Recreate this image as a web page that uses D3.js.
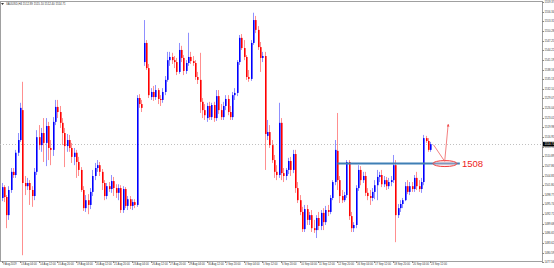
<!DOCTYPE html>
<html>
<head>
<meta charset="utf-8">
<script src="https://cdn.jsdelivr.net/npm/d3@7"></script>
<style>
html, body { margin: 0; padding: 0; background: #fff; overflow: hidden; }
svg { display: block; }
</style>
</head>
<body>
<svg id="chart"></svg>
<script>

// XAUUSD H4, 9 Aug - 23 Sep 2019
var opens = [
1497.8,1501.2,1498.1,1492.4,1500.3,1506.0,1505.0,1512.0,1516.0,1525.4,
1502.5,1501.5,1502.5,1500.3,1498.4,1506.0,1516.9,1514.4,1518.2,1515.1,
1520.4,1513.5,1512.9,1521.7,1526.4,1524.8,1521.4,1518.2,1514.1,1516.0,
1513.5,1510.7,1512.0,1509.1,1506.6,1500.3,1494.6,1497.1,1495.6,1499.7,
1504.7,1507.2,1508.1,1506.0,1502.5,1498.4,1501.5,1500.6,1503.1,1500.9,
1499.4,1500.9,1494.0,1500.6,1495.3,1497.4,1495.3,1496.5,1495.6,1529.2,
1527.3,1540.5,1546.5,1538.6,1529.5,1531.1,1529.5,1531.7,1528.9,1528.6,
1531.1,1534.9,1541.1,1542.1,1541.1,1540.5,1537.4,1544.3,1541.8,1537.7,
1540.2,1542.1,1540.8,1540.2,1535.8,1534.9,1528.0,1525.4,1522.9,1526.7,
1523.2,1527.0,1522.9,1529.8,1525.4,1523.2,1526.7,1528.9,1524.8,1523.2,
1530.1,1530.8,1540.5,1548.1,1544.9,1542.1,1535.8,1535.2,1546.5,1553.7,
1550.6,1545.2,1541.8,1542.4,1517.3,1518.5,1514.4,1509.7,1506.0,1505.0,
1521.4,1505.6,1504.7,1506.6,1509.4,1506.6,1511.6,1500.9,1497.1,1493.4,
1488.0,1494.3,1490.9,1492.4,1488.3,1487.7,1491.5,1489.0,1493.1,1490.2,
1494.0,1493.4,1497.8,1502.8,1512.6,1503.4,1498.4,1497.1,1498.7,1509.1,
1492.1,1488.3,1489.3,1500.9,1506.6,1503.4,1504.7,1499.4,1498.4,1497.8,
1499.7,1501.8,1504.4,1505.0,1502.1,1503.4,1501.5,1502.8,1503.4,1508.1,
1492.4,1494.6,1495.9,1497.1,1501.5,1499.7,1501.5,1500.6,1504.1,1501.5,
1500.6,1502.8,1516.6,1515.7,1512.9
];
var highs = [
1502.5,1501.8,1498.7,1501.5,1507.2,1507.2,1512.9,1518.2,1527.7,1534.3,
1504.7,1504.1,1503.4,1501.5,1507.2,1519.1,1520.7,1519.8,1522.9,1522.9,
1521.7,1516.0,1523.2,1528.6,1528.6,1526.7,1522.9,1519.8,1517.9,1517.6,
1515.1,1513.5,1512.9,1510.7,1507.5,1501.5,1498.7,1499.0,1500.9,1506.6,
1508.8,1509.7,1509.1,1506.9,1503.4,1502.5,1502.8,1505.0,1504.4,1502.1,
1502.1,1501.8,1501.5,1501.2,1498.4,1498.4,1497.4,1497.4,1530.1,1530.4,
1528.6,1553.7,1547.4,1539.9,1532.3,1533.0,1533.3,1532.3,1530.1,1532.3,
1536.1,1543.7,1543.7,1543.4,1542.4,1541.8,1546.5,1545.6,1542.7,1541.1,
1549.7,1543.7,1542.4,1541.1,1537.4,1543.4,1529.2,1527.3,1527.7,1528.0,
1527.7,1528.0,1531.7,1531.7,1527.3,1528.0,1530.1,1530.1,1526.7,1531.1,
1532.3,1541.1,1549.0,1549.3,1547.4,1542.7,1538.0,1547.4,1556.0,1555.0,
1551.8,1546.8,1543.7,1543.7,1522.3,1520.7,1516.0,1511.3,1508.1,1527.7,
1522.9,1507.2,1507.2,1510.4,1510.7,1512.9,1512.9,1502.8,1498.7,1495.0,
1495.6,1495.6,1493.4,1494.0,1490.9,1492.4,1493.4,1494.0,1494.6,1495.3,
1495.6,1498.7,1503.4,1516.0,1524.5,1504.7,1500.3,1499.7,1509.7,1509.7,
1493.4,1490.2,1501.8,1508.1,1507.8,1506.0,1506.0,1500.9,1500.3,1500.9,
1503.4,1506.6,1506.0,1506.6,1504.7,1504.4,1504.1,1504.7,1511.3,1509.7,
1495.9,1497.1,1497.8,1502.8,1503.4,1502.8,1502.8,1505.0,1506.0,1503.4,
1504.1,1517.6,1517.3,1516.6,1515.4
];
var lows = [
1496.8,1496.5,1488.3,1490.9,1499.4,1504.1,1504.1,1511.0,1515.4,1479.8,
1498.7,1500.3,1495.6,1495.0,1497.1,1505.0,1512.9,1512.3,1509.1,1507.8,
1509.7,1508.1,1511.0,1520.7,1522.9,1519.8,1514.4,1507.5,1512.3,1512.3,
1508.8,1508.1,1504.1,1504.7,1499.7,1493.7,1493.4,1492.7,1494.3,1498.4,
1503.4,1506.0,1504.7,1500.3,1497.1,1497.4,1499.7,1499.4,1498.4,1497.8,
1497.1,1493.1,1493.1,1494.6,1494.0,1494.3,1494.0,1494.6,1495.0,1526.1,
1524.8,1539.3,1538.0,1529.2,1528.6,1528.3,1528.6,1527.3,1526.7,1527.7,
1530.1,1534.3,1539.3,1539.9,1538.6,1536.4,1536.8,1540.5,1536.4,1536.8,
1539.3,1539.9,1539.3,1534.9,1533.6,1524.5,1522.9,1522.3,1521.7,1522.3,
1522.3,1521.7,1522.0,1524.2,1522.3,1522.3,1525.4,1523.8,1522.3,1522.3,
1528.6,1529.8,1539.6,1544.3,1541.1,1534.9,1534.3,1534.6,1545.9,1549.6,
1544.3,1537.4,1540.5,1506.6,1516.0,1513.5,1508.8,1504.1,1503.4,1504.1,
1503.4,1502.8,1503.4,1505.3,1504.7,1505.6,1499.4,1496.2,1492.4,1487.1,
1487.1,1489.3,1489.3,1487.1,1486.8,1485.2,1487.7,1487.7,1487.7,1489.3,
1492.1,1492.7,1497.1,1501.8,1500.3,1496.2,1496.2,1496.5,1497.8,1490.9,
1487.1,1487.1,1488.3,1500.0,1501.8,1502.5,1498.4,1497.1,1495.6,1496.8,
1497.4,1497.1,1502.8,1501.2,1501.2,1500.3,1500.6,1501.5,1502.5,1483.9,
1491.5,1493.4,1494.6,1496.8,1499.0,1498.7,1499.7,1499.7,1500.3,1499.7,
1499.4,1501.8,1515.1,1512.3,1512.3
];
var closes = [
1501.2,1498.1,1492.4,1500.3,1506.0,1505.0,1512.0,1516.0,1526.1,1502.5,
1501.5,1502.5,1500.3,1498.4,1506.0,1516.9,1514.4,1518.2,1515.1,1520.4,
1513.5,1512.9,1521.7,1526.4,1524.8,1521.4,1518.2,1514.1,1516.0,1513.5,
1510.7,1512.0,1509.1,1506.6,1500.3,1494.6,1497.1,1495.6,1499.7,1504.7,
1507.2,1508.1,1506.0,1502.5,1498.4,1501.5,1500.6,1503.1,1500.9,1499.4,
1500.9,1494.0,1500.6,1495.3,1497.4,1495.3,1496.5,1495.6,1529.2,1527.3,
1526.1,1546.5,1538.6,1530.1,1531.1,1529.5,1531.7,1528.9,1528.6,1531.1,
1534.9,1541.1,1542.1,1541.1,1540.5,1537.4,1544.3,1541.8,1537.7,1540.2,
1542.1,1540.8,1540.2,1535.8,1534.9,1528.0,1525.4,1523.8,1526.7,1523.2,
1527.0,1522.9,1529.8,1525.4,1523.2,1526.7,1528.9,1524.8,1523.2,1530.1,
1530.8,1540.5,1548.1,1544.9,1542.1,1535.8,1535.2,1546.5,1553.7,1550.6,
1545.2,1541.8,1542.4,1517.9,1518.5,1514.4,1509.7,1506.0,1505.0,1521.4,
1505.6,1504.7,1506.6,1509.4,1506.6,1511.6,1500.9,1497.1,1493.4,1488.0,
1494.3,1490.9,1492.4,1488.3,1487.7,1491.5,1489.0,1493.1,1490.2,1494.0,
1493.4,1497.8,1502.8,1512.9,1503.4,1498.4,1497.1,1498.7,1509.1,1492.1,
1488.3,1489.3,1500.9,1506.6,1503.4,1504.7,1499.4,1498.4,1497.8,1499.7,
1501.8,1504.4,1505.0,1502.1,1503.4,1501.5,1502.8,1503.4,1508.1,1492.4,
1494.6,1495.9,1497.1,1501.5,1499.7,1501.5,1500.6,1504.1,1501.5,1500.6,
1502.8,1516.6,1515.7,1512.9,1514.7
];

// one date label every 8 bars
var dateLabels = [
"9 Aug 2019","13 Aug 04:00","14 Aug 12:00","15 Aug 20:00","19 Aug 04:00",
"20 Aug 12:00","21 Aug 20:00","23 Aug 04:00","26 Aug 12:00","27 Aug 20:00",
"29 Aug 04:00","30 Aug 12:00","2 Sep 20:00","4 Sep 04:00","5 Sep 12:00",
"6 Sep 20:00","10 Sep 04:00","11 Sep 12:00","12 Sep 20:00","16 Sep 04:00",
"17 Sep 12:00","18 Sep 20:00","20 Sep 04:00","23 Sep 12:00"
];
var priceTicks = [
1559.37,1556.34,1553.31,1550.28,1547.25,1544.22,1541.19,1538.16,1535.13,
1532.10,1529.07,1526.04,1523.01,1519.98,1516.95,1513.92,1510.89,1507.86,
1504.83,1501.80,1498.77,1495.74,1492.71,1489.68,1486.65,1483.62,1480.59,1477.56
];

var symbolTitle = "XAUUSD,H4  1512.89 1515.10 1512.40 1514.71";
var bidPrice = 1514.71;

// drawn annotation: support level, ellipse, arrow and label
var levelPrice = 1508.6;
var levelFrom = 144, levelTo = 196.5;
var ellipseBar = 190.1;
var arrowPts = [[185.2, 1514.5], [190.0, 1509.3], [191.5, 1521.0]];
var levelText = "1508";
var textBar = 197.4;

var BULL = '#0000ff', BEAR = '#ff0000';
var BULL_WICK = '#8f8fff', BEAR_WICK = '#ff8f8f';
var W = 554, H = 268;
var plotRight = 542, plotTop = 2, plotBottom = 261;

var svg = d3.select('#chart').attr('width', W).attr('height', H);

var x = d3.scaleLinear().domain([0, 231.76]).range([2, plotRight]);
var y = d3.scaleLinear().domain([1478.3, 1560.0]).range([260, 0]);

var bars = opens.map(function(o, i) {
  return {i: i, o: o, h: highs[i], l: lows[i], c: closes[i]};
});

svg.append('defs').append('clipPath').attr('id', 'plot')
  .append('rect').attr('x', 0).attr('y', plotTop).attr('width', plotRight).attr('height', plotBottom - plotTop);

// frame
svg.append('rect')
  .attr('x', 0.5).attr('y', 1.5)
  .attr('width', plotRight).attr('height', plotBottom - 1)
  .attr('fill', 'none').attr('stroke', '#a0a0a0').attr('stroke-width', 1);

var g = svg.append('g').attr('clip-path', 'url(#plot)');

// bid line
g.append('line')
  .attr('x1', 0).attr('x2', plotRight)
  .attr('y1', Math.round(y(bidPrice)) + 0.5).attr('y2', Math.round(y(bidPrice)) + 0.5)
  .attr('stroke', '#c0c0c0').attr('stroke-dasharray', '1,2');

function cx(d) { return Math.floor(x(d.i)); }

g.selectAll('line.wick').data(bars).enter().append('line')
  .attr('class', 'wick')
  .attr('x1', function(d) { return cx(d) + 0.5; })
  .attr('x2', function(d) { return cx(d) + 0.5; })
  .attr('y1', function(d) { return y(d.h); })
  .attr('y2', function(d) { return y(d.l); })
  .attr('stroke', function(d) { return d.c >= d.o ? BULL_WICK : BEAR_WICK; })
  .attr('stroke-width', 1);

g.selectAll('rect.body').data(bars).enter().append('rect')
  .attr('class', 'body')
  .attr('x', function(d) { return cx(d); })
  .attr('width', 1.6)
  .attr('y', function(d) { return y(Math.max(d.o, d.c)); })
  .attr('height', function(d) { return Math.max(1, Math.abs(y(d.o) - y(d.c))); })
  .attr('fill', function(d) { return d.c >= d.o ? BULL : BEAR; });

// annotation
g.append('line')
  .attr('x1', x(levelFrom)).attr('x2', x(levelTo))
  .attr('y1', y(levelPrice)).attr('y2', y(levelPrice))
  .attr('stroke', '#3f7fb5').attr('stroke-width', 2);

g.append('ellipse')
  .attr('cx', x(ellipseBar)).attr('cy', y(levelPrice))
  .attr('rx', 12).attr('ry', 3)
  .attr('fill', 'rgba(255,200,200,0.35)').attr('stroke', '#f04040').attr('stroke-width', 1);

g.append('path')
  .attr('d', d3.line().x(function(p) { return x(p[0]); }).y(function(p) { return y(p[1]); })(arrowPts))
  .attr('fill', 'none').attr('stroke', '#f06060').attr('stroke-width', 0.8);

var tip = arrowPts[2];
g.append('path')
  .attr('d', 'M' + (x(tip[0]) - 1.3) + ',' + (y(tip[1]) + 2.5) + 'L' + x(tip[0]) + ',' + y(tip[1]) + 'L' + (x(tip[0]) + 1.3) + ',' + (y(tip[1]) + 2.5) + 'Z')
  .attr('fill', '#f04040');

svg.append('text')
  .attr('x', x(textBar)).attr('y', y(levelPrice) + 3.5)
  .attr('font-family', 'Liberation Sans, Arial, sans-serif')
  .attr('font-size', 9.5)
  .attr('fill', '#ee2222')
  .text(levelText);

// right price axis
var fontAxis = 'Liberation Sans, Arial, sans-serif';
var yTicks = svg.append('g');
yTicks.selectAll('line').data(priceTicks).enter().append('line')
  .attr('x1', plotRight).attr('x2', plotRight + 2)
  .attr('y1', function(d) { return Math.round(y(d)) + 0.5; })
  .attr('y2', function(d) { return Math.round(y(d)) + 0.5; })
  .attr('stroke', '#888');
yTicks.selectAll('text').data(priceTicks).enter().append('text')
  .attr('x', plotRight + 2.5)
  .attr('y', function(d) { return y(d) + 1; })
  .attr('font-family', fontAxis).attr('font-size', 2.7).attr('fill', '#333')
  .text(function(d) { return d.toFixed(2); });

svg.append('rect')
  .attr('x', plotRight + 1).attr('y', y(bidPrice) - 2.3)
  .attr('width', W - plotRight - 1).attr('height', 4.6).attr('fill', '#000');
svg.append('text')
  .attr('x', plotRight + 2.5).attr('y', y(bidPrice) + 1)
  .attr('font-family', fontAxis).attr('font-size', 2.7).attr('fill', '#fff')
  .text(bidPrice.toFixed(2));

// bottom time axis
var xTicks = svg.append('g');
xTicks.selectAll('line').data(dateLabels).enter().append('line')
  .attr('x1', function(d, k) { return Math.floor(x(k * 8)) + 0.5; })
  .attr('x2', function(d, k) { return Math.floor(x(k * 8)) + 0.5; })
  .attr('y1', plotBottom).attr('y2', plotBottom + 2)
  .attr('stroke', '#888');
xTicks.selectAll('text').data(dateLabels).enter().append('text')
  .attr('x', function(d, k) { return Math.floor(x(k * 8)) + 1; })
  .attr('y', plotBottom + 4.2)
  .attr('font-family', fontAxis).attr('font-size', 2.7).attr('fill', '#333')
  .text(function(d) { return d; });

// title
svg.append('path').attr('d', 'M1,3 L4,3 L2.5,5 Z').attr('fill', '#333');
svg.append('text')
  .attr('x', 6).attr('y', 5)
  .attr('font-family', fontAxis).attr('font-size', 2.8).attr('fill', '#333')
  .text(symbolTitle);

</script>
</body>
</html>
